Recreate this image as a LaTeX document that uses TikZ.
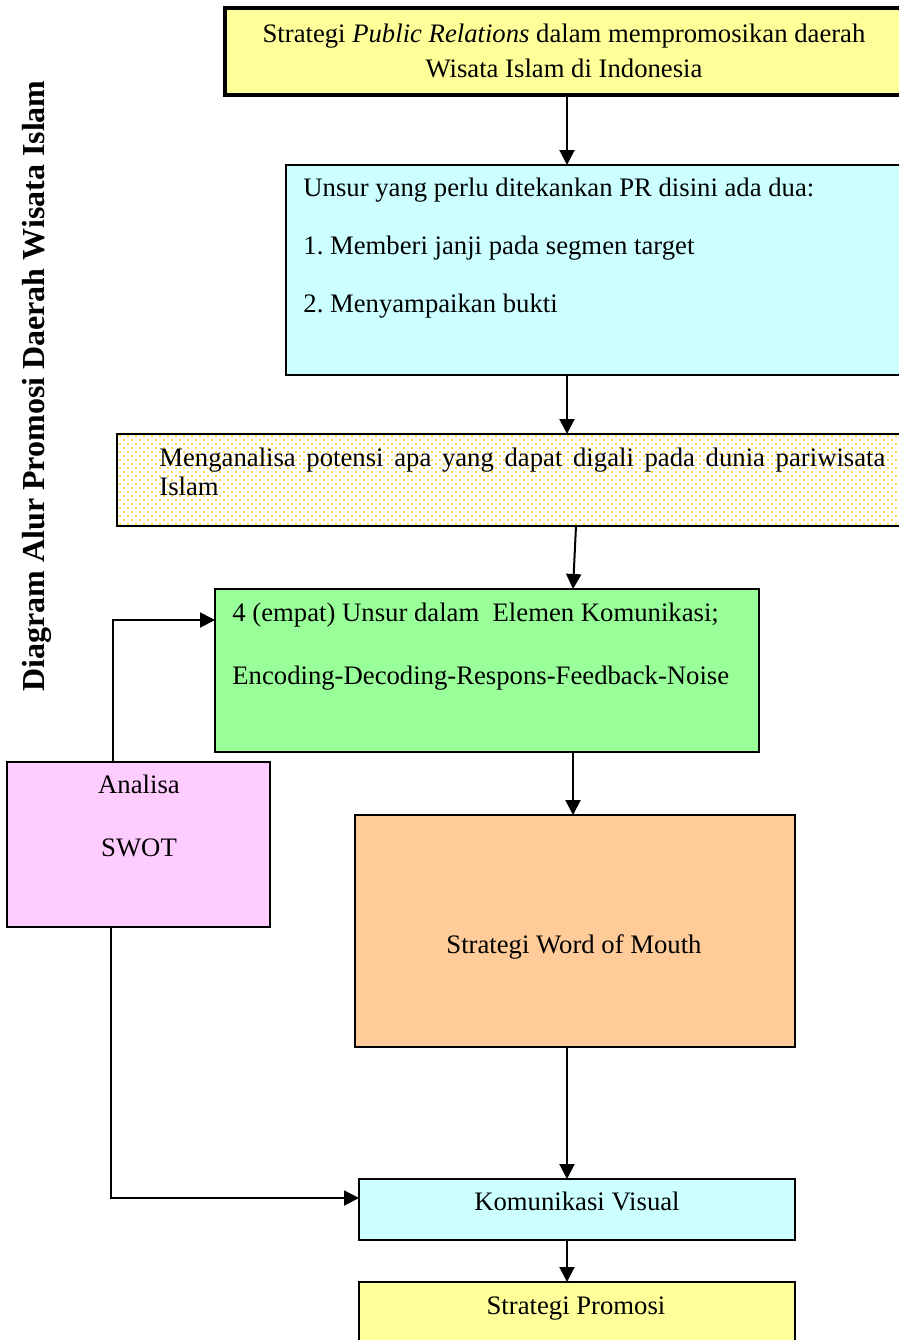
\documentclass[tikz,border=0pt]{standalone}
\usepackage{fontspec}
\setmainfont{Liberation Serif}
\usetikzlibrary{arrows.meta,patterns}
\definecolor{cYellow}{HTML}{FFFF99}
\definecolor{cCyan}{HTML}{CCFFFF}
\definecolor{cGreen}{HTML}{99FF99}
\definecolor{cOrange}{HTML}{FFCC99}
\definecolor{cPink}{HTML}{FFCCFF}
\definecolor{cDot}{HTML}{FFCC00}
\pgfdeclarepatternformonly{sparsedots}{\pgfqpoint{-1pt}{-1pt}}{\pgfqpoint{3pt}{3pt}}{\pgfqpoint{4pt}{4pt}}{%
  \pgfpathcircle{\pgfqpoint{0pt}{0pt}}{0.55pt}%
  \pgfpathcircle{\pgfqpoint{2pt}{2pt}}{0.55pt}%
  \pgfusepath{fill}}
\begin{document}
\frenchspacing
\begin{tikzpicture}[x=0.5pt,y=-0.5pt,
  box/.style={draw=black, line width=1pt, anchor=north west, inner sep=0pt, outer sep=0pt},
  txt/.style={font=\fontsize{13.35pt}{16pt}\selectfont, inner sep=0pt},
  arr/.style={line width=1pt, -{Triangle[length=7.5pt,width=7.5pt]}}]
\useasboundingbox (0,0) rectangle (899,1340);
\clip (0,0) rectangle (899,1340);
% boxes
\node[box, fill=cYellow, line width=1.75pt, minimum width=340pt, minimum height=43.5pt] (top) at (225,8) {};
\node[box, fill=cCyan, minimum width=309.5pt, minimum height=105pt] (cyan1) at (286,165) {};
\node[box, pattern=sparsedots, pattern color=cDot, minimum width=394pt, minimum height=46pt] (dotted) at (117,434) {};
\node[box, fill=cGreen, minimum width=272pt, minimum height=81.5pt] (green) at (215,589) {};
\node[box, fill=cOrange, minimum width=220pt, minimum height=116pt] (orange) at (355,815) {};
\node[box, fill=cCyan, minimum width=218pt, minimum height=30.5pt] (cyan2) at (359,1179) {};
\node[box, fill=cYellow, minimum width=218pt, minimum height=40pt] (yellow) at (359,1282) {};
\node[box, fill=cPink, minimum width=131.5pt, minimum height=82.5pt] (pink) at (7,762) {};
% texts
\node[txt, anchor=base] (t1a) at (564,42) {Strategi \textit{Public Relations} dalam mempromosikan daerah};
\node[txt, anchor=base] (t1b) at (564,77) {Wisata Islam di Indonesia};
\node[txt, anchor=base west] (t2a) at (303,196) {Unsur yang perlu ditekankan PR disini ada dua:};
\node[txt, anchor=base west] (t2b) at (303,254) {1. Memberi janji pada segmen target};
\node[txt, anchor=base west] (t2c) at (303,312) {2. Menyampaikan bukti};
\node[txt, anchor=base west] (t3a) at (159,466) {\makebox[363pt][s]{Menganalisa potensi apa yang dapat digali pada dunia pariwisata}};
\node[txt, anchor=base west] (t3b) at (159,495) {Islam};
\node[txt, anchor=base west] (t4a) at (232,621) {4 (empat) Unsur dalam\ \ Elemen Komunikasi;};
\node[txt, anchor=base west] (t4b) at (232,684) {Encoding-Decoding-Respons-Feedback-Noise};
\node[txt, anchor=base] (t5) at (574,953) {Strategi Word of Mouth};
\node[txt, anchor=base] (t6) at (577,1210) {Komunikasi Visual};
\node[txt, anchor=base] (t7) at (576,1314) {Strategi Promosi};
\node[txt, anchor=base] (t8a) at (139,793) {Analisa};
\node[txt, anchor=base] (t8b) at (139,856) {SWOT};
\node[font=\bfseries\fontsize{16pt}{19pt}\selectfont, rotate=90, anchor=base, inner sep=0pt] (title) at (45,386) {Diagram Alur Promosi Daerah Wisata Islam};
% connectors
\coordinate (c567) at (567,0);
\coordinate (c576) at (576,0);
\coordinate (c573) at (573,0);
\draw[arr] (top.south -| c567) -- (cyan1.north -| c567);
\draw[arr] (cyan1.south -| c567) -- (dotted.north -| c567);
\draw[arr] (dotted.south -| c576) -- (green.north -| c573);
\draw[arr] (green.south -| c573) -- (orange.north -| c573);
\draw[arr] (orange.south -| c567) -- (cyan2.north -| c567);
\draw[arr] (cyan2.south -| c567) -- (yellow.north -| c567);
\coordinate (p113) at (113,620);
\draw[arr] (pink.north -| p113) |- (green.west |- p113);
\coordinate (p111) at (111,1198);
\draw[arr] (pink.south -| p111) |- (cyan2.west |- p111);
\end{tikzpicture}
\end{document}
